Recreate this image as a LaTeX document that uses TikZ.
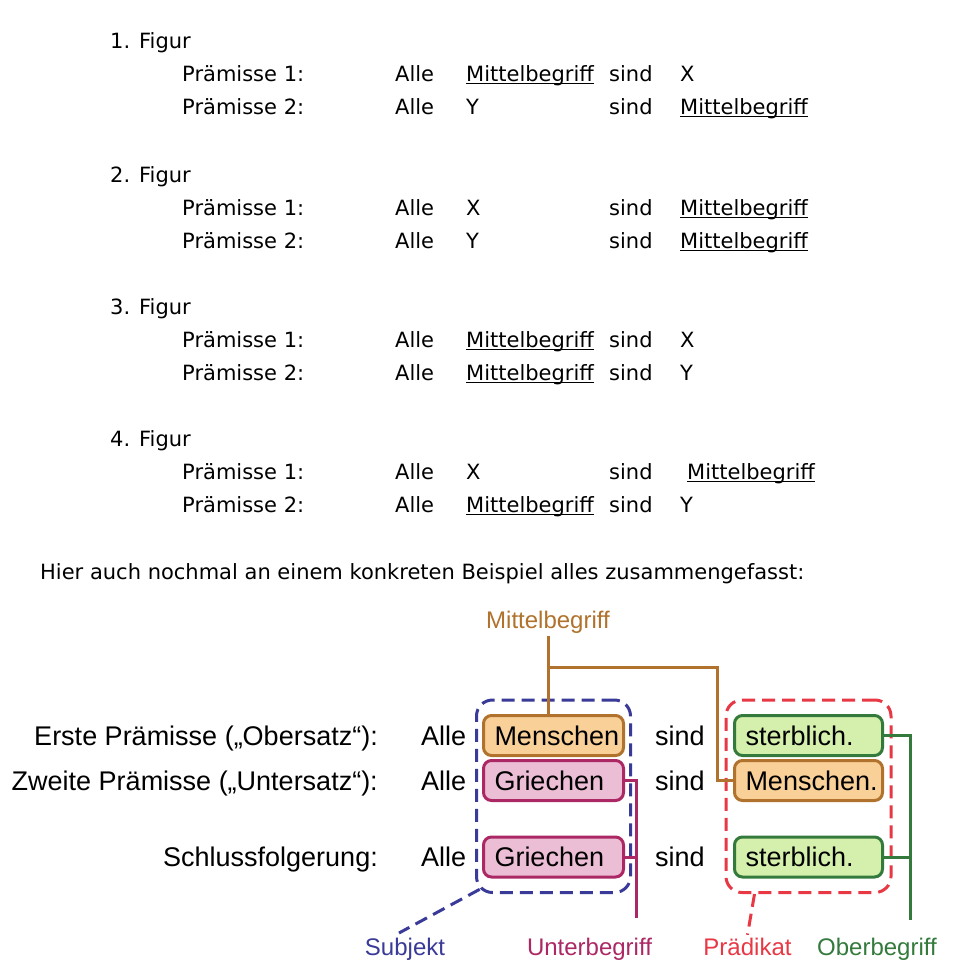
\documentclass[tikz,border=0pt]{standalone}
\usepackage{fontspec}
\newfontfamily\topfont{DejaVu Sans}
\newfontfamily\arialf{Liberation Sans}
\usetikzlibrary{fit,calc}
\definecolor{mbrown}{RGB}{176,114,44}
\definecolor{morange}{RGB}{249,208,152}
\definecolor{mpinkfill}{RGB}{236,190,214}
\definecolor{mmag}{RGB}{172,40,100}
\definecolor{mgreenfill}{RGB}{212,240,172}
\definecolor{mgreen}{RGB}{52,122,60}
\definecolor{mblue}{RGB}{58,58,152}
\definecolor{mred}{RGB}{232,56,68}
\newcommand\ulmb{\setbox0\hbox{Mittelbegriff}\rlap{\rule[-3.2pt]{\wd0}{1.4pt}}\box0}
\tikzset{
  tt/.style={font=\topfont\fontsize{21}{25}\selectfont, inner sep=0pt, anchor=base west},
  big/.style={font=\arialf\fontsize{27}{31}\selectfont, inner sep=0pt},
  lbl/.style={font=\arialf\fontsize{24}{28}\selectfont, inner sep=3pt, text height=17pt, text depth=5pt},
  termbox/.style={draw, rounded corners=8pt, line width=3pt, minimum height=40pt,
    inner xsep=11pt, inner ysep=0pt, align=left, text height=19.3pt, text depth=0pt,
    font=\arialf\fontsize{27}{31}\selectfont, anchor=west},
  lbox/.style={termbox, text width=118pt},
  rbox/.style={termbox, text width=126pt},
  mid/.style={termbox, draw=mbrown, fill=morange},
  unt/.style={termbox, draw=mmag, fill=mpinkfill},
  obe/.style={termbox, draw=mgreen, fill=mgreenfill},
  dashbox/.style={draw, line width=3pt, dash pattern=on 13pt off 7pt, rounded corners=16pt, inner ysep=14pt},
  conn/.style={line width=3pt},
}
\begin{document}
\begin{tikzpicture}[x=1pt,y=-1pt]
\fill[white] (0,0) rectangle (964,978);
\path[use as bounding box] (0,0) rectangle (964,978);
% ---- 1. Figur
\node[tt] (f1) at (110,48) {1. Figur};
\node[tt] (f1p1) at (182,81) {Prämisse 1:};
\node[tt] (f1a1) at (395,81) {Alle};
\node[tt] (f1s1) at (466,81) {\ulmb};
\node[tt] (f1v1) at (609,81) {sind};
\node[tt] (f1o1) at (680,81) {X};
\node[tt] (f1p2) at (182,114) {Prämisse 2:};
\node[tt] (f1a2) at (395,114) {Alle};
\node[tt] (f1s2) at (466,114) {Y};
\node[tt] (f1v2) at (609,114) {sind};
\node[tt] (f1o2) at (680,114) {\ulmb};
% ---- 2. Figur
\node[tt] (f2) at (110,182) {2. Figur};
\node[tt] (f2p1) at (182,215) {Prämisse 1:};
\node[tt] (f2a1) at (395,215) {Alle};
\node[tt] (f2s1) at (466,215) {X};
\node[tt] (f2v1) at (609,215) {sind};
\node[tt] (f2o1) at (680,215) {\ulmb};
\node[tt] (f2p2) at (182,248) {Prämisse 2:};
\node[tt] (f2a2) at (395,248) {Alle};
\node[tt] (f2s2) at (466,248) {Y};
\node[tt] (f2v2) at (609,248) {sind};
\node[tt] (f2o2) at (680,248) {\ulmb};
% ---- 3. Figur
\node[tt] (f3) at (110,314) {3. Figur};
\node[tt] (f3p1) at (182,347) {Prämisse 1:};
\node[tt] (f3a1) at (395,347) {Alle};
\node[tt] (f3s1) at (466,347) {\ulmb};
\node[tt] (f3v1) at (609,347) {sind};
\node[tt] (f3o1) at (680,347) {X};
\node[tt] (f3p2) at (182,380) {Prämisse 2:};
\node[tt] (f3a2) at (395,380) {Alle};
\node[tt] (f3s2) at (466,380) {\ulmb};
\node[tt] (f3v2) at (609,380) {sind};
\node[tt] (f3o2) at (680,380) {Y};
% ---- 4. Figur
\node[tt] (f4) at (110,446) {4. Figur};
\node[tt] (f4p1) at (182,479) {Prämisse 1:};
\node[tt] (f4a1) at (395,479) {Alle};
\node[tt] (f4s1) at (466,479) {X};
\node[tt] (f4v1) at (609,479) {sind};
\node[tt] (f4o1) at (687,479) {\ulmb};
\node[tt] (f4p2) at (182,512) {Prämisse 2:};
\node[tt] (f4a2) at (395,512) {Alle};
\node[tt] (f4s2) at (466,512) {\ulmb};
\node[tt] (f4v2) at (609,512) {sind};
\node[tt] (f4o2) at (680,512) {Y};
% ---- intro
\node[tt] (intro) at (40,579) {Hier auch nochmal an einem konkreten Beispiel alles zusammengefasst:};
% ---- example
\node[big, anchor=base east] (r1) at (378,745.5) {Erste Prämisse („Obersatz“):};
\node[big, anchor=base east] (r2) at (378,790.5) {Zweite Prämisse („Untersatz“):};
\node[big, anchor=base east] (r3) at (378,866.5) {Schlussfolgerung:};
\node[big, anchor=base west] (al1) at (421,745.5) {Alle};
\node[big, anchor=base west] (al2) at (421,790.5) {Alle};
\node[big, anchor=base west] (al3) at (421,866.5) {Alle};
\node[big, anchor=base west] (si1) at (655,745.5) {sind};
\node[big, anchor=base west] (si2) at (655,790.5) {sind};
\node[big, anchor=base west] (si3) at (655,866.5) {sind};
\node[mid, lbox] (m1) at (482,735.5) {Menschen};
\node[unt, lbox] (g1) at (482,780.5) {Griechen};
\node[unt, lbox] (g2) at (482,857) {Griechen};
\node[obe, rbox] (s1) at (733,735.5) {sterblich.};
\node[mid, rbox] (m2) at (733,780.5) {Menschen.};
\node[obe, rbox] (s2) at (733,857) {sterblich.};
\node[dashbox, draw=mblue, fit=(m1)(g2), inner xsep=5.5pt] (subj) {};
\node[dashbox, draw=mred, fit=(s1)(s2), inner xsep=7pt] (pred) {};
% labels
\node[lbl, text=mbrown] (mlab) at (548,622) {Mittelbegriff};
\node[lbl, text=mblue] (sublab) at (405,949) {Subjekt};
\node[lbl, text=mmag] (untlab) at (589.5,949) {Unterbegriff};
\node[lbl, text=mred] (predlab) at (747.5,949) {Prädikat};
\node[lbl, text=mgreen] (oblab) at (877,949) {Oberbegriff};
% connectors
\coordinate (bj) at (548,667);
\coordinate (bk) at (717,667);
\draw[conn, mbrown] (mlab.south) -- (mlab.south |- m1.north);
\draw[conn, mbrown] (bj) -- (bk) |- (m2.west);
\coordinate (ut) at (636,918);
\draw[conn, mmag] (g1.east) -| (ut);
\draw[conn, mmag] (g2.east) -- (g2.east -| ut);
\coordinate (ot) at (910,920);
\draw[conn, mgreen] (s1.east) -| (ot);
\draw[conn, mgreen] (s2.east) -- (s2.east -| ot);
\coordinate (sube) at (399,933);
\draw[conn, mblue, dash pattern=on 13pt off 7pt] ($(subj.south west)+(4.7,-4.7)$) -- (sube);
\draw[conn, mred, dash pattern=on 13pt off 7pt] ($(pred.south west)+(30,0)$) -- (predlab.north);
\end{tikzpicture}
\end{document}
